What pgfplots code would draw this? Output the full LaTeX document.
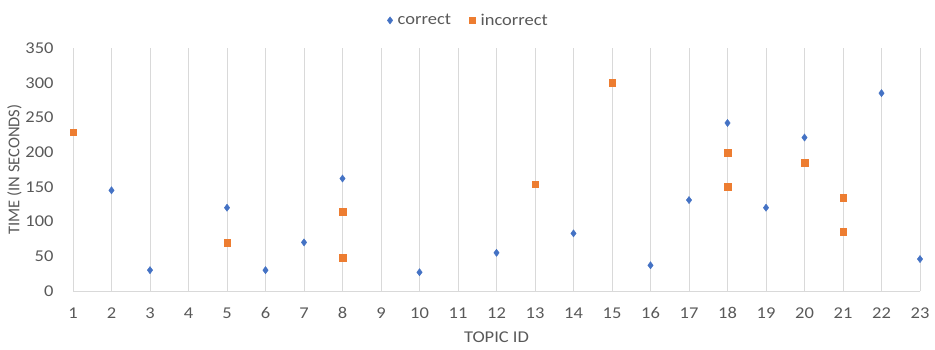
\documentclass[border=0pt]{standalone}
\usepackage{pgfplots}
\pgfplotsset{compat=1.18}
\usepackage{fontspec}
\setmainfont{Carlito}[FakeStretch=1.12]
\newfontfamily\ylfont{Carlito}
\definecolor{cblue}{HTML}{4472C4}
\definecolor{corange}{HTML}{ED7D31}
\definecolor{tgray}{HTML}{595959}
\definecolor{ggray}{HTML}{D9D9D9}
\begin{document}
\begin{tikzpicture}[x=1bp,y=1bp]
\useasboundingbox (0,0) rectangle (935,349);
\begin{axis}[
  at={(73bp,58bp)}, anchor=south west,
  scale only axis, width=847bp, height=243bp,
  xmin=1, xmax=23, ymin=0, ymax=350,
  xtick={1,...,23}, ytick={0,50,...,350},
  axis y line=none,
  axis x line*=bottom,
  axis line style={ggray, line width=0.8pt},
  x axis line style={-},
  xmajorgrids, grid style={ggray, line width=0.8pt},
  major tick length=0pt,
  tick style={draw=none},
  ticklabel style={font=\fontsize{16.5bp}{18bp}\selectfont, text=tgray},
  /pgf/number format/assume math mode=true,
  xticklabel style={yshift=-13bp},
  xlabel={TOPIC ID},
  xlabel style={font=\fontsize{16.5bp}{18bp}\selectfont, text=tgray, yshift=-8bp, inner sep=1bp},
  legend style={at={(0.467,1.0)}, anchor=south, yshift=17bp, draw=none, fill=none,
    legend columns=2, font=\fontsize{16.5bp}{18bp}\selectfont, text=tgray,
    /tikz/every even column/.append style={column sep=16bp},
    /tikz/every odd column/.append style={column sep=3bp}},
  legend cell align=left,
  clip=false,
]
\addplot[only marks, mark=diamond*, mark size=3.6bp, color=cblue] coordinates {
(2,145) (3,30) (5,120) (6,30) (7,70) (8,162) (10,27) (12,55) (14,83) (16,37)
(17,131) (18,242) (19,120) (20,221) (22,285) (23,46)};
\addlegendentry{correct}
\addplot[only marks, mark=square*, mark size=3.3bp, color=corange] coordinates {
(1,229) (5,70) (8,114) (8,48) (13,154) (15,300) (18,199) (18,150) (20,185) (21,134) (21,85)};
\addlegendentry{incorrect}
\end{axis}
\begin{axis}[
  at={(73bp,58bp)}, anchor=south west,
  scale only axis, width=847bp, height=243bp,
  xmin=1, xmax=23, ymin=0, ymax=350,
  ytick={0,50,...,350}, xtick=\empty,
  axis x line=none, axis y line*=left,
  y axis line style={draw=none},
  major tick length=0pt, tick style={draw=none},
  ticklabel style={font=\fontsize{16.5bp}{18bp}\selectfont, text=tgray},
  /pgf/number format/assume math mode=true,
  yticklabel style={xshift=-16bp},
  ylabel={TIME (IN SECONDS)},
  ylabel style={font=\ylfont\fontsize{16.5bp}{18bp}\selectfont, text=tgray, yshift=-3bp},
]
\end{axis}
\end{tikzpicture}
\end{document}
